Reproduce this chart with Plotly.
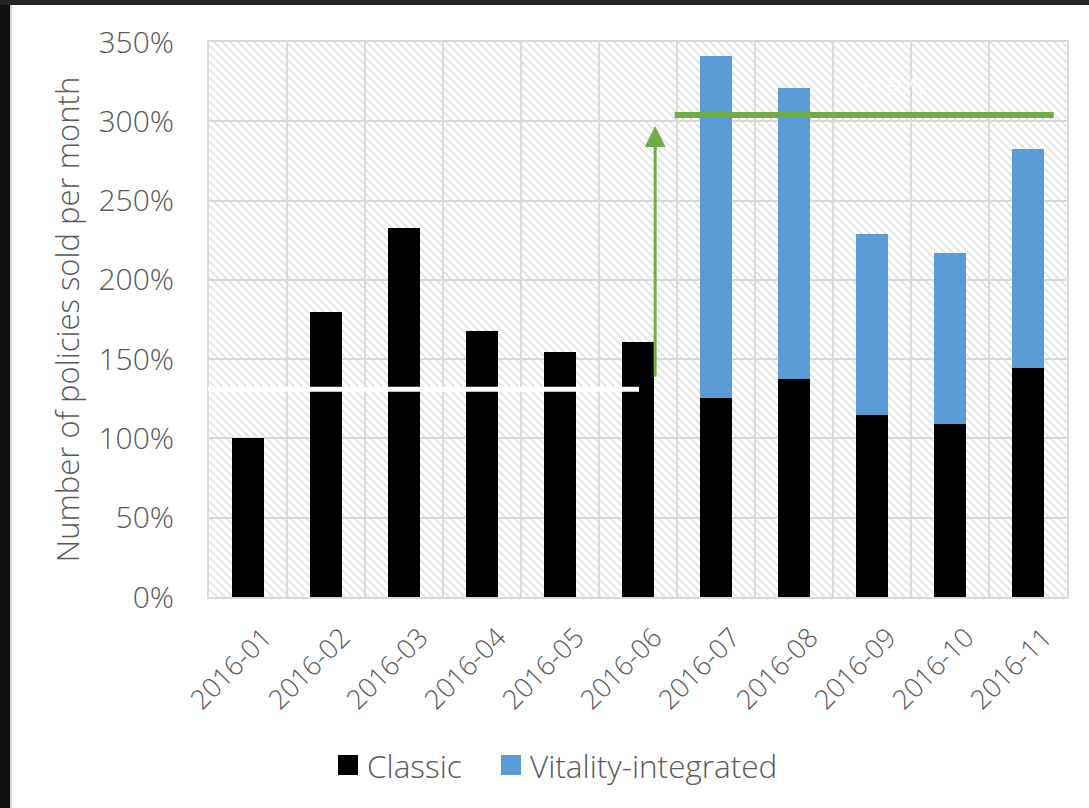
import plotly.graph_objects as go

# Monthly policy sales, indexed to January 2016 = 100%
months = ["2016-01", "2016-02", "2016-03", "2016-04", "2016-05", "2016-06",
          "2016-07", "2016-08", "2016-09", "2016-10", "2016-11"]
classic = [100, 180, 233, 168, 154.5, 161, 125.5, 137.5, 114.5, 109, 144.5]
vitality = [0, 0, 0, 0, 0, 0, 215.5, 183.5, 114.5, 108, 138]
series_names = ["Classic", "Vitality-integrated"]
series_colors = ["#000000", "#5B9BD5"]

baseline_level = 131      # white break line
uplift_level = 304        # green target line
uplift_label = "+130%"

W, H = 1089, 808
ML, MR, MT, MB = 209, 22, 42, 211
PW, PH = W - ML - MR, H - MT - MB

TXT = "#595959"
GRID = "#d9d9d9"
GREEN = "#70AD47"
FONT = "Open Sans"


def px_x(p):
    return (p - ML) / PW


def px_y(p):
    return 1 - (p - MT) / PH


fig = go.Figure()
for name, vals, col in zip(series_names, [classic, vitality], series_colors):
    fig.add_trace(go.Bar(x=months, y=vals, name=name, showlegend=False,
                         marker=dict(color=col, line=dict(width=0))))

# diagonal hatch behind the grid
step = 8
segs = []
c = -PH
while c <= PW:
    if c >= 0:
        x0, y0 = c, 0
    else:
        x0, y0 = 0, -c
    if PW - c <= PH:
        x1, y1 = PW, PW - c
    else:
        x1, y1 = c + PH, PH
    segs.append(f"M{x0/PW:.5f},{1-y0/PH:.5f}L{x1/PW:.5f},{1-y1/PH:.5f}")
    c += step
shapes = [dict(type="path", path="".join(segs), xref="paper", yref="paper",
               layer="below", line=dict(color="#e0e0e0", width=1.6))]

# white break line across the early bars
shapes.append(dict(type="line", xref="paper", yref="y", x0=-0.001, x1=px_x(639),
                   y0=baseline_level, y1=baseline_level,
                   line=dict(color="white", width=5), layer="above"))
# green target line
shapes.append(dict(type="line", xref="x", yref="y", x0=5.47, x1=10.33,
                   y0=uplift_level, y1=uplift_level,
                   line=dict(color=GREEN, width=6), layer="above"))

# dark frame at top and left edge
shapes.append(dict(type="rect", xref="paper", yref="paper",
                   x0=px_x(0), x1=px_x(10), y0=px_y(H), y1=px_y(0),
                   fillcolor="#111111", line=dict(width=0), layer="above"))
shapes.append(dict(type="rect", xref="paper", yref="paper",
                   x0=px_x(0), x1=px_x(W), y0=px_y(5), y1=px_y(0),
                   fillcolor="#242424", line=dict(width=0), layer="above"))
shapes.append(dict(type="line", xref="paper", yref="paper",
                   x0=px_x(11), x1=px_x(11), y0=px_y(H), y1=px_y(5),
                   line=dict(color="#c8c8c8", width=1.5), layer="above"))

annotations = [
    dict(x=5.22, y=297, ax=5.22, ay=138, xref="x", yref="y", axref="x", ayref="y",
         text="", showarrow=True, arrowhead=2, arrowsize=1.4, arrowwidth=3,
         arrowcolor=GREEN),
    dict(x=8.27, y=323, xref="x", yref="y", text=uplift_label, showarrow=False,
         font=dict(family=FONT, size=22, color="white")),
]

# legend keys: square swatch followed by the series name
legend_left = [338, 501]
for name, col, lx in zip(series_names, series_colors, legend_left):
    shapes.append(dict(type="rect", xref="paper", yref="paper",
                       x0=px_x(lx), x1=px_x(lx + 20), y0=px_y(775), y1=px_y(755),
                       fillcolor=col, line=dict(width=0), layer="above"))
    annotations.append(dict(x=px_x(lx + 27), y=px_y(765), xref="paper", yref="paper",
                            xanchor="left", yanchor="middle", showarrow=False,
                            text=name,
                            font=dict(family=FONT, size=31.5, color=TXT, weight=300)))

fig.update_layout(
    width=W, height=H,
    margin=dict(l=ML, r=MR, t=MT, b=MB),
    paper_bgcolor="white", plot_bgcolor="white",
    barmode="stack", bargap=0.58,
    font=dict(family=FONT, size=30, color=TXT, weight=300),
    shapes=shapes, annotations=annotations,
    showlegend=False,
    xaxis=dict(type="category", tickangle=-45, tickson="boundaries",
               showgrid=True, gridcolor=GRID, gridwidth=2,
               showline=True, linecolor=GRID, linewidth=2, mirror=True,
               ticks="", ticklabelstandoff=12, ticklabelshift=16,
               tickfont=dict(family=FONT, size=27, color=TXT, weight=300)),
    yaxis=dict(range=[0, 350], dtick=50, ticksuffix="%",
               showgrid=True, gridcolor=GRID, gridwidth=2,
               showline=True, linecolor=GRID, linewidth=2, mirror=True,
               ticks="", ticklabelstandoff=27, zeroline=False,
               tickfont=dict(family=FONT, size=30, color=TXT, weight=300),
               title=dict(text="Number of policies sold per month", standoff=10,
                          font=dict(family=FONT, size=31, color=TXT, weight=300))),
)

fig.write_html("out.html")
